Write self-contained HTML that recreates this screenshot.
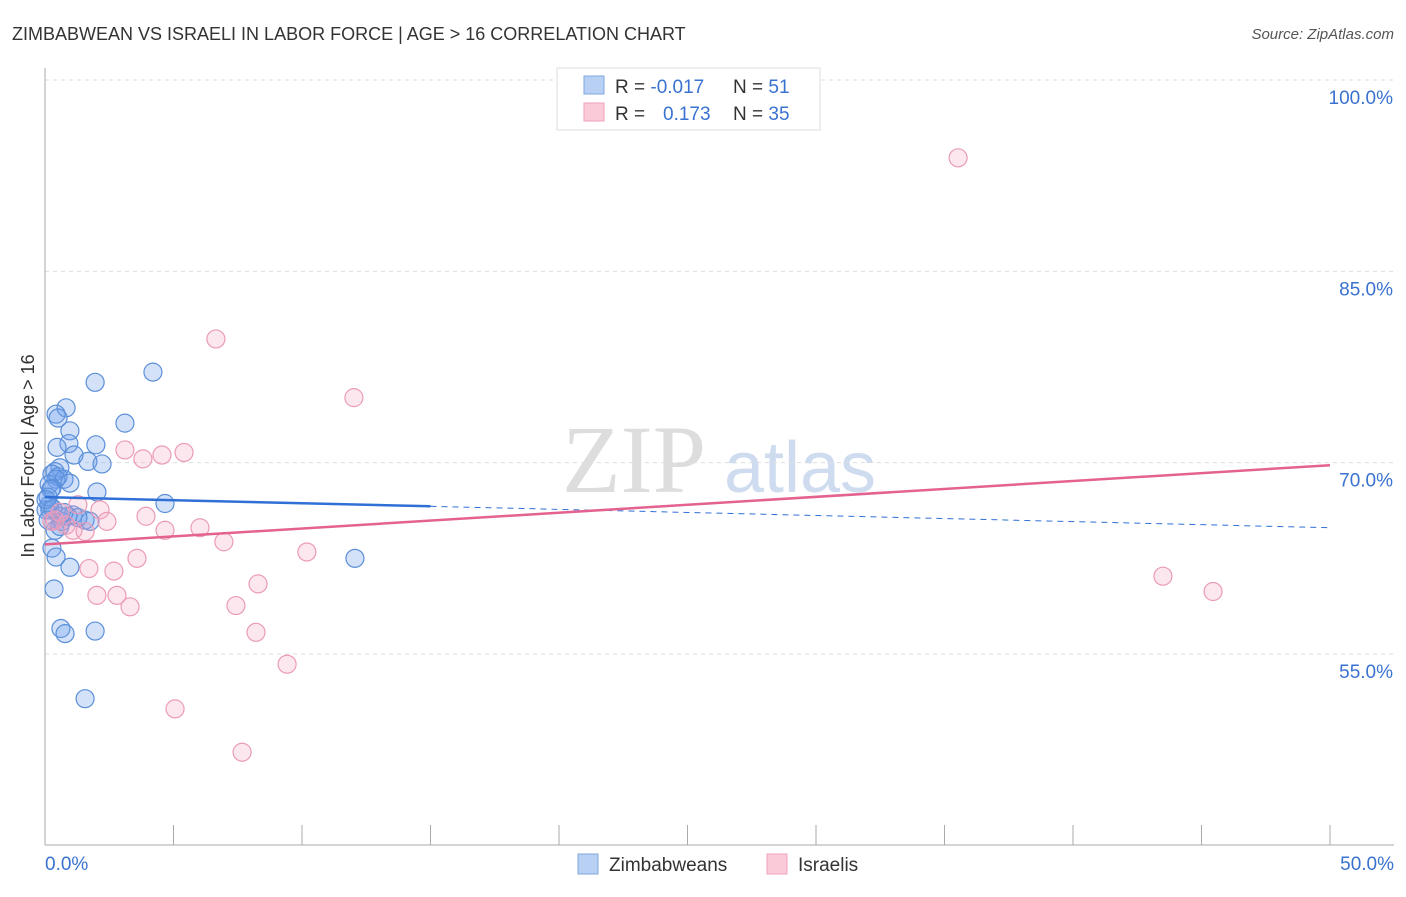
<!DOCTYPE html>
<html><head><meta charset="utf-8"><style>
body{margin:0;background:#fff;font-family:"Liberation Sans",sans-serif;}
svg text{font-family:"Liberation Sans",sans-serif;}
</style></head><body>
<svg id="chart" width="1406" height="892" viewBox="0 0 1406 892">
<text x="12" y="40" font-size="18" fill="#333">ZIMBABWEAN VS ISRAELI IN LABOR FORCE | AGE &gt; 16 CORRELATION CHART</text>
<text x="1394" y="39" font-size="15" fill="#555" font-style="italic" text-anchor="end">Source: ZipAtlas.com</text>
<g>
<text x="634" y="492" font-size="96" fill="#ddd" font-family="Liberation Serif" text-anchor="middle" style="font-family:'Liberation Serif',serif">ZIP</text>
<text x="800" y="492" font-size="72" fill="#cfdcf0" text-anchor="middle">atlas</text>
</g>
<g id="grid"></g>
<g id="axes"></g>
<g id="points"></g>
<g id="trends"></g>
<text transform="translate(34,456) rotate(-90)" font-size="18" fill="#333" text-anchor="middle">In Labor Force | Age &gt; 16</text>
<g>
<rect x="557" y="68" width="263" height="62" fill="#fff" stroke="#ddd"/>
<rect x="584" y="76" width="20" height="18" fill="#b8d0f3" stroke="#7fa7e0"/>
<rect x="584" y="103" width="20" height="18" fill="#fbcad8" stroke="#f0a0ba"/>
<text x="615" y="93" font-size="19" fill="#333">R = <tspan fill="#3a72d0">-0.017</tspan><tspan x="733">N = </tspan><tspan fill="#3a72d0">51</tspan></text>
<text x="615" y="120" font-size="19" fill="#333">R = <tspan x="663" fill="#3a72d0">0.173</tspan><tspan x="733">N = </tspan><tspan fill="#3a72d0">35</tspan></text>
</g>
<g>
<rect x="578" y="854" width="20" height="20" fill="#b8d0f3" stroke="#7fa7e0"/>
<text x="609" y="871" font-size="19" fill="#333">Zimbabweans</text>
<rect x="767" y="854" width="20" height="20" fill="#fbcad8" stroke="#f0a0ba"/>
<text x="798" y="871" font-size="19" fill="#333">Israelis</text>
</g>
</svg>
<script>
const blueX=[4.2,1.95,0.82,0.43,0.51,3.11,0.97,1.98,0.93,0.47,1.13,1.67,2.22,0.58,0.39,0.27,0.51,0.74,0.43,0.97,0.16,0.27,2.02,0.23,4.67,0.16,0.19,0.04,0.58,1.09,1.56,1.75,0.66,12.06,0.27,0.43,0.97,0.35,0.62,0.78,1.95,1.56,0.12,0.04,0.31,0.89,1.28,0.12,0.39,0.58,0.74];
const blueY=[77.1,76.3,74.3,73.8,73.5,73.1,72.5,71.4,71.5,71.2,70.6,70.1,69.9,69.6,69.3,69.1,68.9,68.7,68.7,68.4,68.3,68.0,67.7,67.9,66.8,66.7,66.3,66.3,65.8,65.9,65.5,65.4,65.4,62.5,63.3,62.6,61.8,60.1,57.0,56.6,56.8,51.5,67.3,67.1,66.4,65.8,65.7,65.5,64.7,65.0,66.1];
const pinkX=[35.53,6.65,12.02,3.11,3.81,4.55,5.41,3.93,2.14,2.41,1.28,4.67,6.03,6.96,1.09,1.56,0.39,0.82,10.19,3.58,1.71,2.68,2.02,2.80,3.31,7.43,8.29,8.21,9.42,5.06,7.67,43.5,45.45,0.58,0.27];
const pinkY=[93.9,79.7,75.1,71.0,70.3,70.6,70.8,65.8,66.3,65.4,66.7,64.7,64.9,63.8,64.7,64.6,65.5,65.1,63.0,62.5,61.7,61.5,59.6,59.6,58.7,58.8,60.5,56.7,54.2,50.7,47.3,61.1,59.9,66.1,65.4];
const yTicks=[100,85,70,55];
const yTickLabels=["100.0%","85.0%","70.0%","55.0%"];
const xTicks=[0,5,10,15,20,25,30,35,40,45,50];
const blueTrend=[67.3,64.9];
const pinkTrend=[63.6,69.8];
const blueSolidEnd=15;
const NS="http://www.w3.org/2000/svg";
const sx=v=>45+v*25.7;
const sy=v=>80+(100-v)*12.756;
function mk(tag,attrs,parent){const e=document.createElementNS(NS,tag);for(const k in attrs)e.setAttribute(k,attrs[k]);document.getElementById(parent).appendChild(e);return e;}
yTicks.forEach((t,i)=>{
 const l=mk('line',{x1:45,x2:1394,y1:sy(t),y2:sy(t),stroke:'#ddd','stroke-dasharray':'4,4'},'grid');
 
 
 const tx=mk('text',{x:1393,y:sy(t)+24,'font-size':19,fill:'#3a72d0','text-anchor':'end'},'grid');
 tx.textContent=yTickLabels[i];
 
 
});
const ya=mk('line',{x1:45,x2:45,y1:68,y2:845,stroke:'#aaa'},'axes');


const xa=mk('line',{x1:45,x2:1394,y1:845,y2:845,stroke:'#aaa'},'axes');


xTicks.forEach(t=>{
 const l=mk('line',{x1:sx(t),x2:sx(t),y1:825,y2:845,stroke:'#aaa'},'axes');
 
 
});
[[0,'0.0%','start',45],[50,'50.0%','end',1394]].forEach(a=>{
 const tx=mk('text',{x:a[3],y:870,'font-size':19,fill:'#3a72d0','text-anchor':a[2]},'axes');
 tx.textContent=a[1];
 
 
});
blueX.forEach((x,i)=>{
 const c=mk('circle',{cx:sx(x),cy:sy(blueY[i]),r:9,fill:'rgba(110,160,235,0.3)',stroke:'#5b8fd9','stroke-width':1.2},'points');
 
 
});
pinkX.forEach((x,i)=>{
 const c=mk('circle',{cx:sx(x),cy:sy(pinkY[i]),r:9,fill:'rgba(245,160,190,0.25)',stroke:'#eb9bb7','stroke-width':1.2},'points');
 
 
});
const bAt=x=>blueTrend[0]+(blueTrend[1]-blueTrend[0])*x/50;
const b1=mk('line',{x1:sx(0),y1:sy(bAt(0)),x2:sx(blueSolidEnd),y2:sy(bAt(blueSolidEnd)),stroke:'#2f6fd6','stroke-width':2.5},'trends');


const b2=mk('line',{x1:sx(blueSolidEnd),y1:sy(bAt(blueSolidEnd)),x2:sx(50),y2:sy(bAt(50)),stroke:'#2f6fd6','stroke-width':1,'stroke-dasharray':'6,5'},'trends');


const p1=mk('line',{x1:sx(0),y1:sy(pinkTrend[0]),x2:sx(50),y2:sy(pinkTrend[1]),stroke:'#e4628f','stroke-width':2.5},'trends');


</script>
</body></html>
